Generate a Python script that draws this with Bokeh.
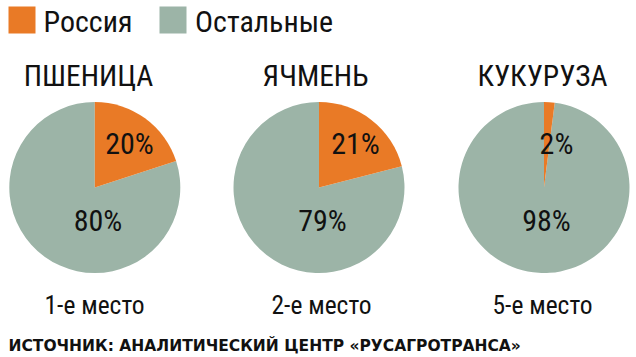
import math
from bokeh.plotting import figure
from bokeh.models import Range1d
from bokeh.core.properties import value
from bokeh.embed import file_html
from bokeh.resources import INLINE

# ---- data ----
crops = ["ПШЕНИЦА", "ЯЧМЕНЬ", "КУКУРУЗА"]
russia_share = [20, 21, 2]
others_share = [80, 79, 98]
places = ["1-е место", "2-е место", "5-е место"]
series_names = ["Россия", "Остальные"]
source_note = "ИСТОЧНИК: АНАЛИТИЧЕСКИЙ ЦЕНТР «РУСАГРОТРАНСА»"

# ---- layout / style ----
ORANGE = "#E97A26"
GREY = "#9CB4A7"
FONT = "Roboto Condensed"
TXT = "#111111"
W, H = 636, 357
centers_x = [94.3, 318.5, 543.5]   # page pixel coordinates
center_y = 187
R = 85.5
small_x = [129, 355, 556]
big_x = [97.5, 322, 546]
title_x = [88, 315, 542]
place_x = [94, 321, 542]


def X(px):
    return px


def Y(py):
    return -py


p = figure(width=W, height=H, x_range=Range1d(0, W), y_range=Range1d(-H, 0),
           output_backend="svg", toolbar_location=None, min_border=0)
p.axis.visible = False
p.grid.visible = False
p.outline_line_color = None
p.background_fill_color = "white"
p.border_fill_color = "white"

cx = [X(c) for c in centers_x]
cy = [Y(center_y)] * 3
frac = [r / (r + o) for r, o in zip(russia_share, others_share)]
top = math.pi / 2

# grey part (others)
p.wedge(x=cx, y=cy, radius=R,
        start_angle=[top] * 3,
        end_angle=[top - 2 * math.pi * f for f in frac],
        direction="anticlock", fill_color=GREY, line_color=None)
# orange part (Russia), clockwise from 12 o'clock
p.wedge(x=cx, y=cy, radius=R,
        start_angle=[top - 2 * math.pi * f for f in frac],
        end_angle=[top] * 3,
        direction="anticlock", fill_color=ORANGE, line_color=None)

# percentage labels
p.text(x=[X(v) for v in small_x], y=[Y(143)] * 3,
       text=[f"{v}%" for v in russia_share],
       text_font=value(FONT), text_font_size="30px", text_color=TXT,
       text_align="center", text_baseline="middle")
p.text(x=[X(v) for v in big_x], y=[Y(219.5)] * 3,
       text=[f"{v}%" for v in others_share],
       text_font=value(FONT), text_font_size="30px", text_color=TXT,
       text_align="center", text_baseline="middle")

# titles
p.text(x=[X(v) for v in title_x], y=[Y(75.5)] * 3, text=crops,
       text_font=value(FONT), text_font_size="29.5px", text_color=TXT,
       text_align="center", text_baseline="middle")
# places
p.text(x=[X(v) for v in place_x], y=[Y(304)] * 3, text=places,
       text_font=value(FONT), text_font_size="25.5px", text_color=TXT,
       text_align="center", text_baseline="middle")

# legend
p.rect(x=[X(21.5), X(172.5)], y=[Y(19.5)] * 2, width=27, height=27,
       fill_color=[ORANGE, GREY], line_color=None)
p.text(x=[X(43), X(194.5)], y=[Y(21)] * 2, text=series_names,
       text_font=value(FONT), text_font_size="30px", text_color=TXT,
       text_align="left", text_baseline="middle")

# source note
p.text(x=[X(8)], y=[Y(345.5)], text=[source_note],
       text_font=value("DejaVu Sans"), text_font_size="15.5px", text_font_style="bold",
       text_color=TXT, text_align="left", text_baseline="middle")

open("out.html", "w").write(file_html(p, INLINE))
